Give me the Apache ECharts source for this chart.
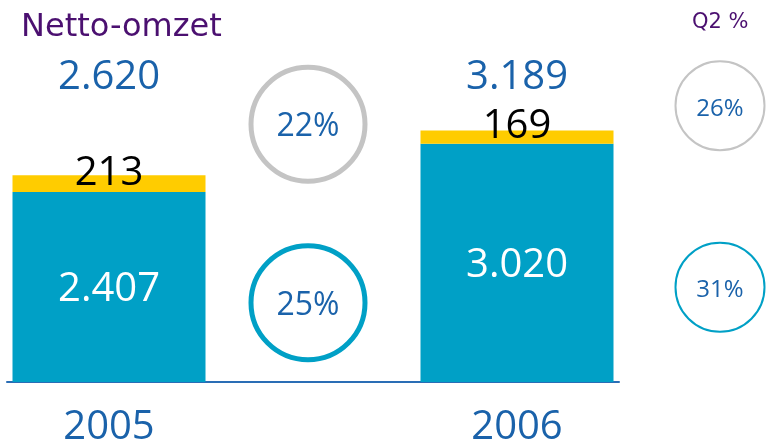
<!DOCTYPE html>
<html>
<head>
<meta charset="utf-8">
<script src="https://cdn.jsdelivr.net/npm/echarts@6/dist/echarts.min.js"></script>
<style>
  html, body { margin: 0; padding: 0; background: #fff; }
  #chart { width: 766px; height: 445px; }
</style>
</head>
<body>
<div id="chart"></div>
<script>
// categories (middle slot holds the year-on-year circles)
const years = ['2005', '', '2006'];
// stacked bar values
const baseValues = [2407, '-', 3020];
const extraValues = [213, '-', 169];
// totals shown above each bar
const totals = [2620, '-', 3189];
// growth circles: rows = total, base
const circleRows = ['Totaal', 'Basis'];
const growthYear = [22, 25];
const growthQ2 = [26, 31];

const blue = '#00a0c6';
const yellow = '#ffcc00';
const grey = '#c4c4c4';
const textBlue = '#1a62aa';
const purple = '#4b1070';
const numFont = 'Open Sans';

// dutch thousands separator
const fmt = n => (n === '-' ? '' : String(n).replace(/\B(?=(\d{3})+(?!\d))/g, '.'));

const chart = echarts.init(document.getElementById('chart'));

const circleSeries = (values, xIdx, yIdx, size, width, fontSize) => ({
    type: 'scatter',
    xAxisIndex: xIdx,
    yAxisIndex: yIdx,
    symbol: 'circle',
    symbolSize: size,
    silent: true,
    data: values.map((v, i) => ({
        value: [0, i, v],
        itemStyle: { color: '#fff', opacity: 1, borderColor: i === 0 ? grey : blue, borderWidth: width }
    })),
    label: {
        show: true,
        position: 'inside',
        offset: [0, 3],
        color: textBlue,
        fontFamily: numFont,
        fontSize: fontSize,
        formatter: p => p.value[2] + '%'
    }
});

chart.setOption({
    animation: false,
    title: [
        { text: 'Netto-omzet', left: 16, top: 7, textStyle: { color: purple, fontFamily: 'DejaVu Sans', fontWeight: 'normal', fontSize: 32 } },
        { text: 'Q2 %', left: 687, top: 7, textStyle: { color: purple, fontFamily: 'DejaVu Sans', fontWeight: 'normal', fontSize: 21 } }
    ],
    grid: [
        { left: 7, right: 147, top: 98, bottom: 63, outerBoundsMode: 'none' },   // bars
        { left: 258, width: 100, top: 35, bottom: 53, outerBoundsMode: 'none' },  // year circles
        { left: 680, width: 80, top: 15, bottom: 67, outerBoundsMode: 'none' }    // Q2 circles
    ],
    xAxis: [
        {
            type: 'category',
            data: years,
            gridIndex: 0,
            axisTick: { show: false },
            axisLine: { lineStyle: { color: '#2a6db5', width: 2 } },
            axisLabel: { color: textBlue, fontFamily: numFont, fontSize: 40, margin: 26 }
        },
        {
            type: 'category',
            data: totals.map(fmt),
            gridIndex: 0,
            position: 'top',
            axisTick: { show: false },
            axisLine: { show: false },
            axisLabel: { color: textBlue, fontFamily: numFont, fontSize: 40, margin: 0 }
        },
        { type: 'category', data: ['Jaar'], gridIndex: 1, show: false },
        { type: 'category', data: ['Q2'], gridIndex: 2, show: false }
    ],
    yAxis: [
        { type: 'value', gridIndex: 0, min: 0, max: 3600, show: false },
        { type: 'category', data: circleRows, gridIndex: 1, inverse: true, show: false },
        { type: 'category', data: circleRows, gridIndex: 2, inverse: true, show: false }
    ],
    series: [
        {
            name: 'Basis',
            type: 'bar',
            stack: 'omzet',
            barWidth: 193,
            data: baseValues,
            itemStyle: { color: blue },
            label: { show: true, position: 'inside', offset: [0, 3], color: '#fff', fontFamily: numFont, fontSize: 40, formatter: p => fmt(p.value) }
        },
        {
            name: 'Extra',
            type: 'bar',
            stack: 'omzet',
            barWidth: 193,
            data: extraValues,
            itemStyle: { color: yellow },
            label: { show: true, position: 'inside', offset: [0, -10], color: '#000', fontFamily: numFont, fontSize: 40, formatter: p => fmt(p.value) }
        },
        circleSeries(growthYear, 2, 1, 114, 5, 32),
        circleSeries(growthQ2, 3, 2, 89, 2, 24)
    ]
});
</script>
</body>
</html>
